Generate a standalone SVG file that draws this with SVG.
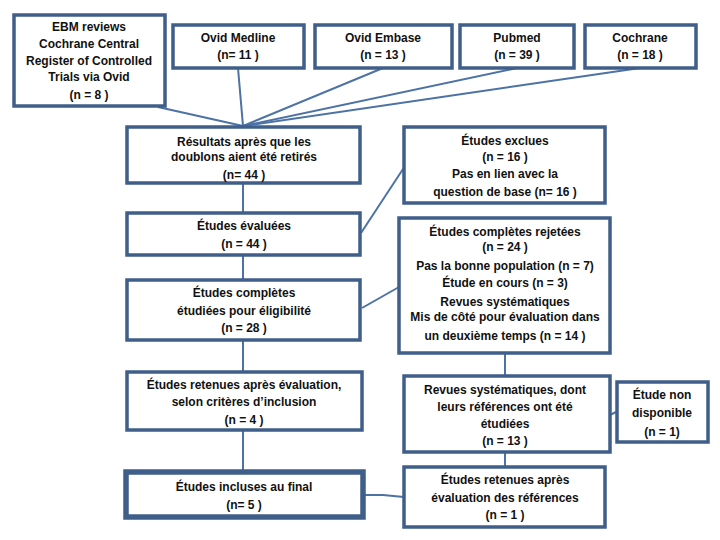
<svg xmlns="http://www.w3.org/2000/svg" width="720" height="540" viewBox="0 0 720 540">
<style>
rect{fill:#fff;stroke:#3F5E8A;stroke-width:3.5}
rect.thick{stroke-width:5.5}
text{font-family:"Liberation Sans",Arial,sans-serif;font-size:12px;font-weight:bold;fill:#111;text-anchor:middle}
#connectors line,#connectors polyline{stroke:#4C72A6;stroke-width:2;fill:none}
</style>
<rect width="720" height="540" fill="#fff" style="stroke:none"/>
<g id="connectors">
<line x1="158" y1="107" x2="243" y2="126"/>
<line x1="238" y1="68" x2="243" y2="126"/>
<line x1="383" y1="68" x2="243" y2="126"/>
<line x1="517" y1="68" x2="243" y2="126"/>
<line x1="640" y1="68" x2="243" y2="126"/>
<line x1="243" y1="183" x2="243" y2="213"/>
<line x1="243" y1="255" x2="243" y2="280"/>
<line x1="243" y1="340" x2="243" y2="372"/>
<line x1="243" y1="430" x2="243" y2="472"/>
<line x1="361" y1="233" x2="405" y2="166"/>
<line x1="362" y1="308" x2="399" y2="287"/>
<line x1="505" y1="353" x2="505" y2="376"/>
<line x1="505" y1="452" x2="505" y2="467"/>
<polyline points="610,415 616,412"/>
<polyline points="404,497 383,495 363,495"/>
</g>
<g id="ebm"><rect x="14" y="15" width="151" height="91"/>
<text x="89" y="31">EBM reviews</text><text x="89" y="48">Cochrane Central</text><text x="89" y="65">Register of Controlled</text><text x="89" y="81">Trials via Ovid</text><text x="89" y="99">(n = 8 )</text></g>
<g id="medline"><rect x="173" y="25" width="131" height="43"/>
<text x="238" y="42">Ovid Medline</text><text x="238" y="59">(n= 11 )</text></g>
<g id="embase"><rect x="315" y="25" width="137" height="43"/>
<text x="383" y="42">Ovid Embase</text><text x="383" y="59">(n = 13 )</text></g>
<g id="pubmed"><rect x="460" y="25" width="114" height="43"/>
<text x="517" y="42">Pubmed</text><text x="517" y="59">(n = 39 )</text></g>
<g id="cochrane"><rect x="585" y="25" width="111" height="43"/>
<text x="640" y="42">Cochrane</text><text x="640" y="59">(n = 18 )</text></g>
<g id="resultats"><rect x="127" y="127" width="233" height="56"/>
<text x="244" y="146">Résultats après que les</text><text x="244" y="161">doublons aient été retirés</text><text x="244" y="179">(n=  44  )</text></g>
<g id="evaluees"><rect x="127" y="213" width="233" height="42"/>
<text x="244" y="230">Études évaluées</text><text x="244" y="248">(n = 44 )</text></g>
<g id="completes"><rect x="127" y="280" width="233" height="60"/>
<text x="244" y="297">Études complètes</text><text x="244" y="315">étudiées pour éligibilité</text><text x="244" y="332">(n = 28 )</text></g>
<g id="retenues"><rect x="127" y="372" width="235" height="58"/>
<text x="244" y="389">Études retenues après évaluation,</text><text x="244" y="406">selon critères d’inclusion</text><text x="244" y="424">(n =  4  )</text></g>
<g id="incluses"><rect class="thick" x="126" y="472" width="237" height="45"/>
<text x="244" y="491">Études incluses au final</text><text x="244" y="509">(n= 5  )</text></g>
<g id="exclues"><rect x="404" y="127" width="201" height="76"/>
<text x="505" y="145">Études exclues</text><text x="505" y="161">(n = 16 )</text><text x="505" y="178">Pas en lien avec la</text><text x="505" y="196">question de base (n= 16 )</text></g>
<g id="rejetees"><rect x="399" y="218" width="211" height="135"/>
<text x="505" y="236">Études complètes rejetées</text><text x="505" y="251">(n = 24 )</text><text x="505" y="270">Pas la bonne population (n = 7)</text><text x="505" y="287">Étude en cours (n = 3)</text><text x="505" y="306">Revues systématiques</text><text x="505" y="321">Mis de côté pour évaluation dans</text><text x="505" y="340">un deuxième temps  (n = 14 )</text></g>
<g id="revues"><rect x="404" y="376" width="206" height="76"/>
<text x="505" y="394">Revues systématiques, dont</text><text x="505" y="411">leurs références ont été</text><text x="505" y="428">étudiées</text><text x="505" y="445">(n = 13 )</text></g>
<g id="retenues-ref"><rect x="404" y="467" width="201" height="60"/>
<text x="505" y="484">Études retenues après</text><text x="505" y="502">évaluation des références</text><text x="505" y="519">(n = 1 )</text></g>
<g id="nondispo"><rect x="617" y="382" width="91" height="60"/>
<text x="662" y="399">Étude non</text><text x="662" y="417">disponible</text><text x="662" y="436">(n  = 1)</text></g>
</svg>
